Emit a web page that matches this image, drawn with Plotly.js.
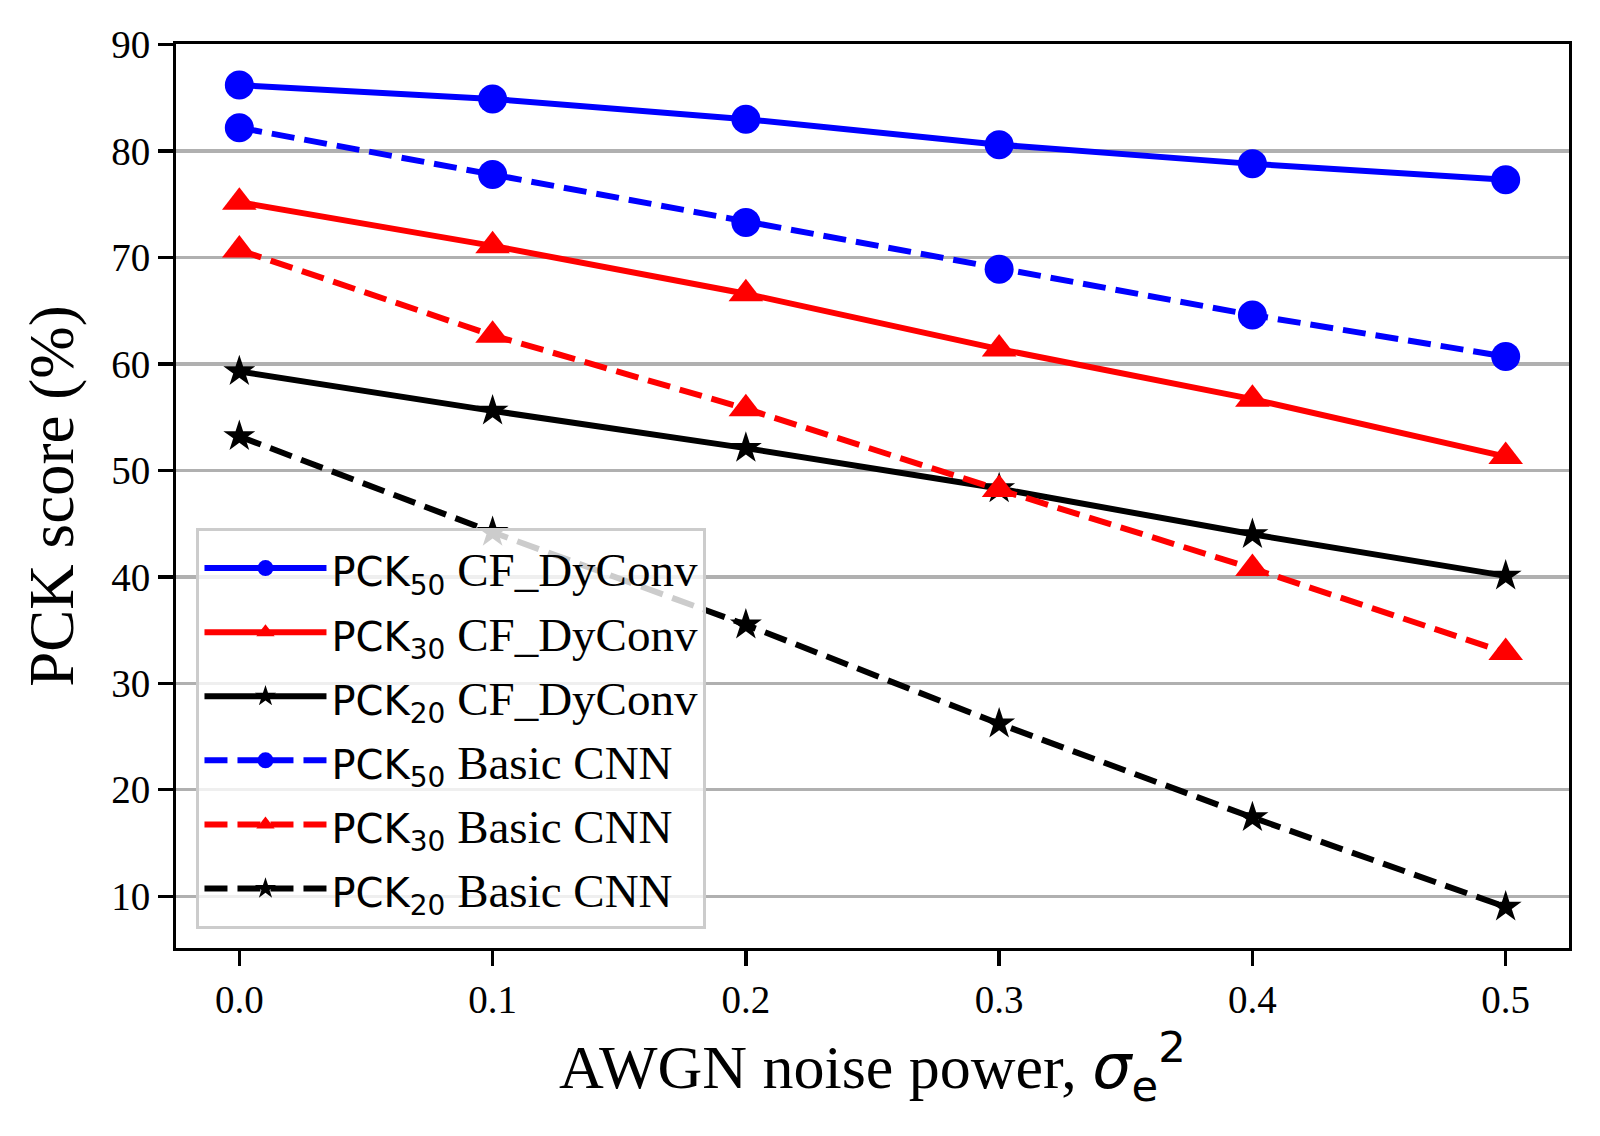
<!DOCTYPE html>
<html>
<head>
<meta charset="utf-8">
<script src="https://cdn.plot.ly/plotly-3.0.1.min.js"></script>
<style>html,body{margin:0;padding:0;background:#fff;}#chart{width:1600px;height:1136px;}</style>
</head>
<body>
<div id="chart"></div>
<script>
const noisePower = [0.0, 0.1, 0.2, 0.3, 0.4, 0.5];
const pck50DyConv = [86.2, 84.9, 83.0, 80.6, 78.8, 77.3];
const pck30DyConv = [75.2, 71.1, 66.6, 61.4, 56.7, 51.3];
const pck20DyConv = [59.3, 55.6, 52.1, 48.3, 44.0, 40.1];
const pck50Basic = [82.2, 77.8, 73.3, 68.9, 64.6, 60.7];
const pck30Basic = [70.7, 62.7, 55.8, 48.2, 40.8, 32.9];
const pck20Basic = [53.2, 44.2, 35.5, 26.2, 17.4, 9.0];
const xTickVals = [0.0, 0.1, 0.2, 0.3, 0.4, 0.5];
const xTickText = ['0.0', '0.1', '0.2', '0.3', '0.4', '0.5'];
const yTickVals = [10, 20, 30, 40, 50, 60, 70, 80, 90];

const SANS = "DejaVu Sans";
const SERIF = "Liberation Serif";
function lab(sub, rest) {
  return "<span style='font-family:" + SANS + ";font-size:40px'>PCK<sub>" + sub + "</sub></span> " + rest;
}
const LW = 6;
const DASH = "23px,10px";
function tr(y, name, color, symbol, size, dash) {
  return {
    x: noisePower, y: y, name: name, type: 'scatter', mode: 'lines+markers',
    line: {color: color, width: LW, dash: dash},
    marker: {color: color, symbol: symbol, size: size, line: {width: 0}}
  };
}
const data = [
  tr(pck50DyConv, lab('50', 'CF_DyConv'), '#0000ff', 'circle', 29, 'solid'),
  tr(pck30DyConv, lab('30', 'CF_DyConv'), '#ff0000', 'triangle-up', 30, 'solid'),
  tr(pck20DyConv, lab('20', 'CF_DyConv'), '#000000', 'star', 24, 'solid'),
  tr(pck50Basic, lab('50', 'Basic CNN'), '#0000ff', 'circle', 29, DASH),
  tr(pck30Basic, lab('30', 'Basic CNN'), '#ff0000', 'triangle-up', 30, DASH),
  tr(pck20Basic, lab('20', 'Basic CNN'), '#000000', 'star', 24, DASH)
];
const layout = {
  width: 1600, height: 1136,
  paper_bgcolor: '#ffffff', plot_bgcolor: '#ffffff',
  margin: {l: 175.5, r: 30.5, t: 44, b: 188, pad: 0},
  font: {family: SERIF, color: '#000000', size: 38},
  showlegend: true,
  legend: {
    x: 0.0147, y: 0.021, xanchor: 'left', yanchor: 'bottom',
    bgcolor: 'rgba(255,255,255,0.8)', bordercolor: '#cccccc', borderwidth: 3,
    font: {family: SERIF, size: 47, color: '#000000'},
    itemwidth: 122, tracegroupgap: 0
  },
  xaxis: {
    range: [-0.025, 0.525], tickvals: xTickVals, ticktext: xTickText,
    showgrid: false, zeroline: false,
    showline: true, linecolor: '#000000', linewidth: 3.3, mirror: true,
    ticks: 'outside', ticklen: 14.6, tickwidth: 3.3, tickcolor: '#000000',
    tickfont: {family: SERIF, size: 39},
    title: {text: "AWGN noise power, <span style='font-family:" + SANS + "'><i>σ</i><sub>e</sub><sup>2</sup></span>", font: {family: SERIF, size: 62}, standoff: 26},
    automargin: false
  },
  yaxis: {
    range: [5.14, 90.06], tickvals: yTickVals,
    showgrid: true, gridcolor: '#b0b0b0', gridwidth: 3.3, zeroline: false,
    showline: true, linecolor: '#000000', linewidth: 3.3, mirror: true,
    ticks: 'outside', ticklen: 14.6, tickwidth: 3.3, tickcolor: '#000000',
    tickfont: {family: SERIF, size: 39},
    title: {text: 'PCK score (%)', font: {family: SERIF, size: 63}, standoff: 18},
    automargin: false
  }
};
Plotly.newPlot('chart', data, layout, {staticPlot: true});
</script>
</body>
</html>
